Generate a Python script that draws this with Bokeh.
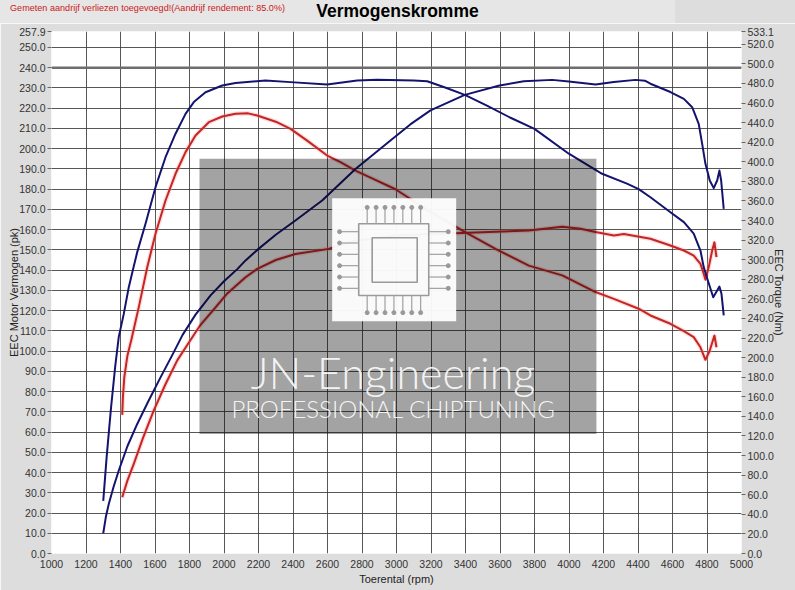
import numpy as np
from bokeh.plotting import figure
from bokeh.layouts import column
from bokeh.models import (Range1d, LinearAxis, FixedTicker, NumeralTickFormatter,
                          Span, BoxAnnotation, Label, Div)
from bokeh.embed import file_html
from bokeh.resources import INLINE

# tuned curve (blue) - power in pk, torque in Nm
blue_pwr_rpm = [1300, 1315, 1332, 1360, 1390, 1440, 1497, 1560, 1632, 1700, 1760, 1835,
                1922, 2000, 2077, 2125, 2193, 2300, 2414, 2569, 2762, 2965, 3080, 3197,
                3396, 3597, 3738, 3902, 3999, 4154, 4260, 4386, 4440, 4472, 4588, 4666,
                4714, 4752, 4772, 4791, 4816, 4839, 4859, 4872, 4882, 4897]
blue_pwr = [10, 18, 24.5, 33, 41, 53, 64, 75, 87, 98, 108, 118,
            127.5, 134.5, 140.5, 144.8, 150, 157.5, 164.5, 174.4, 190, 204, 212, 218.9,
            226.6, 231.2, 233.3, 234, 233.2, 231.7, 232.9, 234, 233.6, 232.1, 228, 224.6,
            220.5, 212.3, 202.4, 192.5, 184.3, 180.5, 184.3, 189.2, 184.3, 170.3]

blue_trq_rpm = [1300, 1320, 1345, 1370, 1390, 1419, 1448, 1471, 1497, 1545, 1603, 1661,
                1719, 1777, 1825, 1893, 1990, 2067, 2240, 2386, 2598, 2772, 2888, 3100,
                3178, 3290, 3396, 3530, 3661, 3800, 3999, 4192, 4336, 4404, 4472, 4588,
                4666, 4723, 4762, 4781, 4805, 4836, 4859, 4872, 4884, 4897]
blue_trq = [53.7, 99.2, 148.8, 192.2, 221.2, 244.7, 272, 289, 307.8, 336.7, 374.1, 404.7,
            428.7, 449, 461, 471.1, 477.9, 480.4, 483, 481.4, 479, 483, 483.7, 483,
            482.3, 475.4, 468.4, 456.8, 445, 433.7, 408.3, 387.8, 377.7, 372.1, 363.8, 348.5,
            338.4, 326.6, 309.4, 292.5, 278.8, 261.7, 268.7, 272.6, 265.2, 243.1]

# stock curve (red)
red_pwr_rpm = [1410, 1440, 1477, 1530, 1593, 1660, 1729, 1787, 1864, 1940, 2019, 2125,
               2193, 2300, 2414, 2607, 2700, 2762, 2868, 2994, 3200, 3380, 3574, 3767,
               3961, 4067, 4154, 4260, 4318, 4472, 4588, 4666, 4723, 4762, 4781, 4791,
               4810, 4830, 4843, 4855]
red_pwr = [27.8, 36, 44.3, 57, 70.7, 83.5, 95.4, 103, 113, 120.5, 128.5, 136.5,
           140.6, 145, 148, 150.5, 153, 154.6, 155.5, 157.1, 157.8, 158.3, 159, 159.6,
           161.4, 160.4, 158.8, 157.1, 157.8, 155.5, 152.2, 149.7, 147.2, 143.1, 138.2, 135.2,
           141.5, 149.7, 153.8, 146.4]

red_trq_rpm = [1410, 1414, 1422, 1440, 1464, 1506, 1555, 1603, 1661, 1719, 1777, 1835,
               1912, 1990, 2067, 2140, 2193, 2300, 2386, 2482, 2598, 2675, 2762, 2868,
               2994, 3187, 3380, 3574, 3767, 3961, 4154, 4260, 4404, 4472, 4588, 4666,
               4723, 4762, 4791, 4816, 4843, 4855]
red_trq = [141.6, 160, 180, 202, 219, 251.6, 292.4, 326.5, 360.5, 387.8, 409.9, 426.9,
           440.5, 446.3, 449, 449.5, 447.3, 441, 433.7, 421.7, 406.4, 399.6, 391, 382.4,
           372, 350, 330, 311, 294, 284, 267, 260, 250, 243.1, 234.6, 227,
           221, 210.6, 197.8, 207.3, 222.6, 210.6]

x_ticks = list(range(1000, 5001, 200))
left_ticks = [float(v) for v in range(0, 251, 10)] + [257.9]
right_ticks = [float(v) for v in range(0, 521, 20)] + [533.1]

FONT = "Liberation Sans"

header = Div(
    text=(
        '<div style="position:relative;width:795px;height:23px;font-family:\'Liberation Sans\',Arial,sans-serif">'
        '<span style="position:absolute;left:10px;top:3px;font-size:9.1px;line-height:11px;'
        'color:#cc2020;white-space:nowrap">'
        'Gemeten aandrijf verliezen toegevoegd!(Aandrijf rendement: 85.0%)</span>'
        '<span style="position:absolute;left:0;width:795px;top:2px;text-align:center;'
        'font-size:17.5px;line-height:19px;font-weight:bold;color:black">Vermogenskromme</span>'
        '</div>'),
    width=795, height=23, margin=0,
    styles={"background": "linear-gradient(to right, #e6e6e6 675px, #dddddd 675px)"})

p = figure(width=795, height=567, output_backend="svg", toolbar_location=None,
           x_range=Range1d(1000, 5000), y_range=Range1d(0, 257.9),
           min_border_left=51, min_border_right=54, min_border_top=8, min_border_bottom=37,
           background_fill_color="white", border_fill_color="#dddddd", margin=0)
p.outline_line_color = None
p.extra_y_ranges = {"trq": Range1d(0, 533.1)}

# grid
p.xgrid.ticker = FixedTicker(ticks=x_ticks)
p.ygrid.ticker = FixedTicker(ticks=list(range(0, 251, 10)))
for g in (p.xgrid, p.ygrid):
    g.grid_line_color = "#3a3a3a"
    g.grid_line_alpha = 0.85
    g.grid_line_width = 1

p.add_layout(Span(location=240, dimension="width", line_color="#6e6e6e",
                  line_width=2.5, level="underlay"))

# axes
p.xaxis.ticker = FixedTicker(ticks=x_ticks)
p.xaxis.formatter = NumeralTickFormatter(format="0")
p.yaxis.ticker = FixedTicker(ticks=left_ticks)
p.yaxis.formatter = NumeralTickFormatter(format="0.0")
right = LinearAxis(y_range_name="trq", ticker=FixedTicker(ticks=right_ticks),
                   formatter=NumeralTickFormatter(format="0.0"))
p.add_layout(right, "right")

p.xaxis.axis_label = "Toerental (rpm)"
p.yaxis.axis_label = "EEC Motor Vermogen (pk)"
right.axis_label = "EEC Torque (Nm)"

for ax in (p.xaxis[0], p.yaxis[0], right):
    ax.axis_line_color = None
    ax.minor_tick_line_color = None
    ax.major_tick_in = 0
    ax.major_tick_out = 4
    ax.major_tick_line_color = "#666666"
    ax.major_label_standoff = 2
    ax.major_label_text_font = FONT
    ax.major_label_text_font_size = "10.5px"
    ax.major_label_text_color = "#333333"
    ax.axis_label_text_font = FONT
    ax.axis_label_text_font_size = "11px"
    ax.axis_label_text_font_style = "normal"
    ax.axis_label_text_color = "#222222"
p.xaxis.major_tick_out = 0
p.xaxis.major_label_standoff = 6
p.xaxis.axis_label_standoff = 2
p.yaxis.axis_label_standoff = -4
right.axis_label_standoff = -4

# curves (stock first, glow under red lines)
p.line(red_trq_rpm, red_trq, y_range_name="trq", line_color="#ff9a9a", line_width=4.5, line_alpha=0.35)
p.line(red_pwr_rpm, red_pwr, line_color="#ff9a9a", line_width=4.5, line_alpha=0.35)
p.line(red_trq_rpm, red_trq, y_range_name="trq", line_color="#c42626", line_width=2,
       line_join="round")
p.line(red_pwr_rpm, red_pwr, line_color="#c42626", line_width=2, line_join="round")
p.line(blue_trq_rpm, blue_trq, y_range_name="trq", line_color="#14146e", line_width=2,
       line_join="round")
p.line(blue_pwr_rpm, blue_pwr, line_color="#14146e", line_width=2, line_join="round")

# watermark
p.add_layout(BoxAnnotation(left=1858, right=4159, bottom=59.1, top=195.0,
                           fill_color="black", fill_alpha=0.36, line_color=None))
p.add_layout(BoxAnnotation(left=2627, right=3346, bottom=114.8, top=175.5,
                           fill_color="white", fill_alpha=0.95, line_color=None))
chip = dict(line_color="#9a9a9a", line_width=1.6, fill_color=None, level="overlay")
p.quad(left=2781, right=3187, bottom=127.5, top=162.9, **chip)
p.quad(left=2859, right=3120, bottom=134, top=156, **chip)
px = np.linspace(2830, 3140, 7)
py = np.linspace(131, 159, 6)
xs = [[x, x] for x in px] * 2 + [[2781, 2670], [3187, 3300]] * 6
ys = [[162.9, 171] for _ in px] + [[127.5, 119] for _ in px] + \
     [[y, y] for y in py for _ in (0, 1)]
p.multi_line(xs, ys, line_color="#a0a0a0", line_width=1.2, level="overlay")
p.scatter(list(px) * 2 + [2670] * 6 + [3300] * 6,
          [171] * 7 + [119] * 7 + list(py) * 2,
          size=4, color="#999999", level="overlay")

p.add_layout(Label(x=2980, y=89.6, text="JN-Engineering", text_align="center",
                   text_baseline="alphabetic", text_color="white", text_alpha=0.9,
                   text_font="Lato Light", text_font_size="43px"))
p.add_layout(Label(x=2983, y=71.6, text="PROFESSIONAL CHIPTUNING", text_align="center",
                   text_baseline="alphabetic", text_color="white", text_alpha=0.9,
                   text_font="Lato Light", text_font_size="24px"))

layout = column(header, p, spacing=0)
open("out.html", "w").write(file_html(layout, INLINE))
